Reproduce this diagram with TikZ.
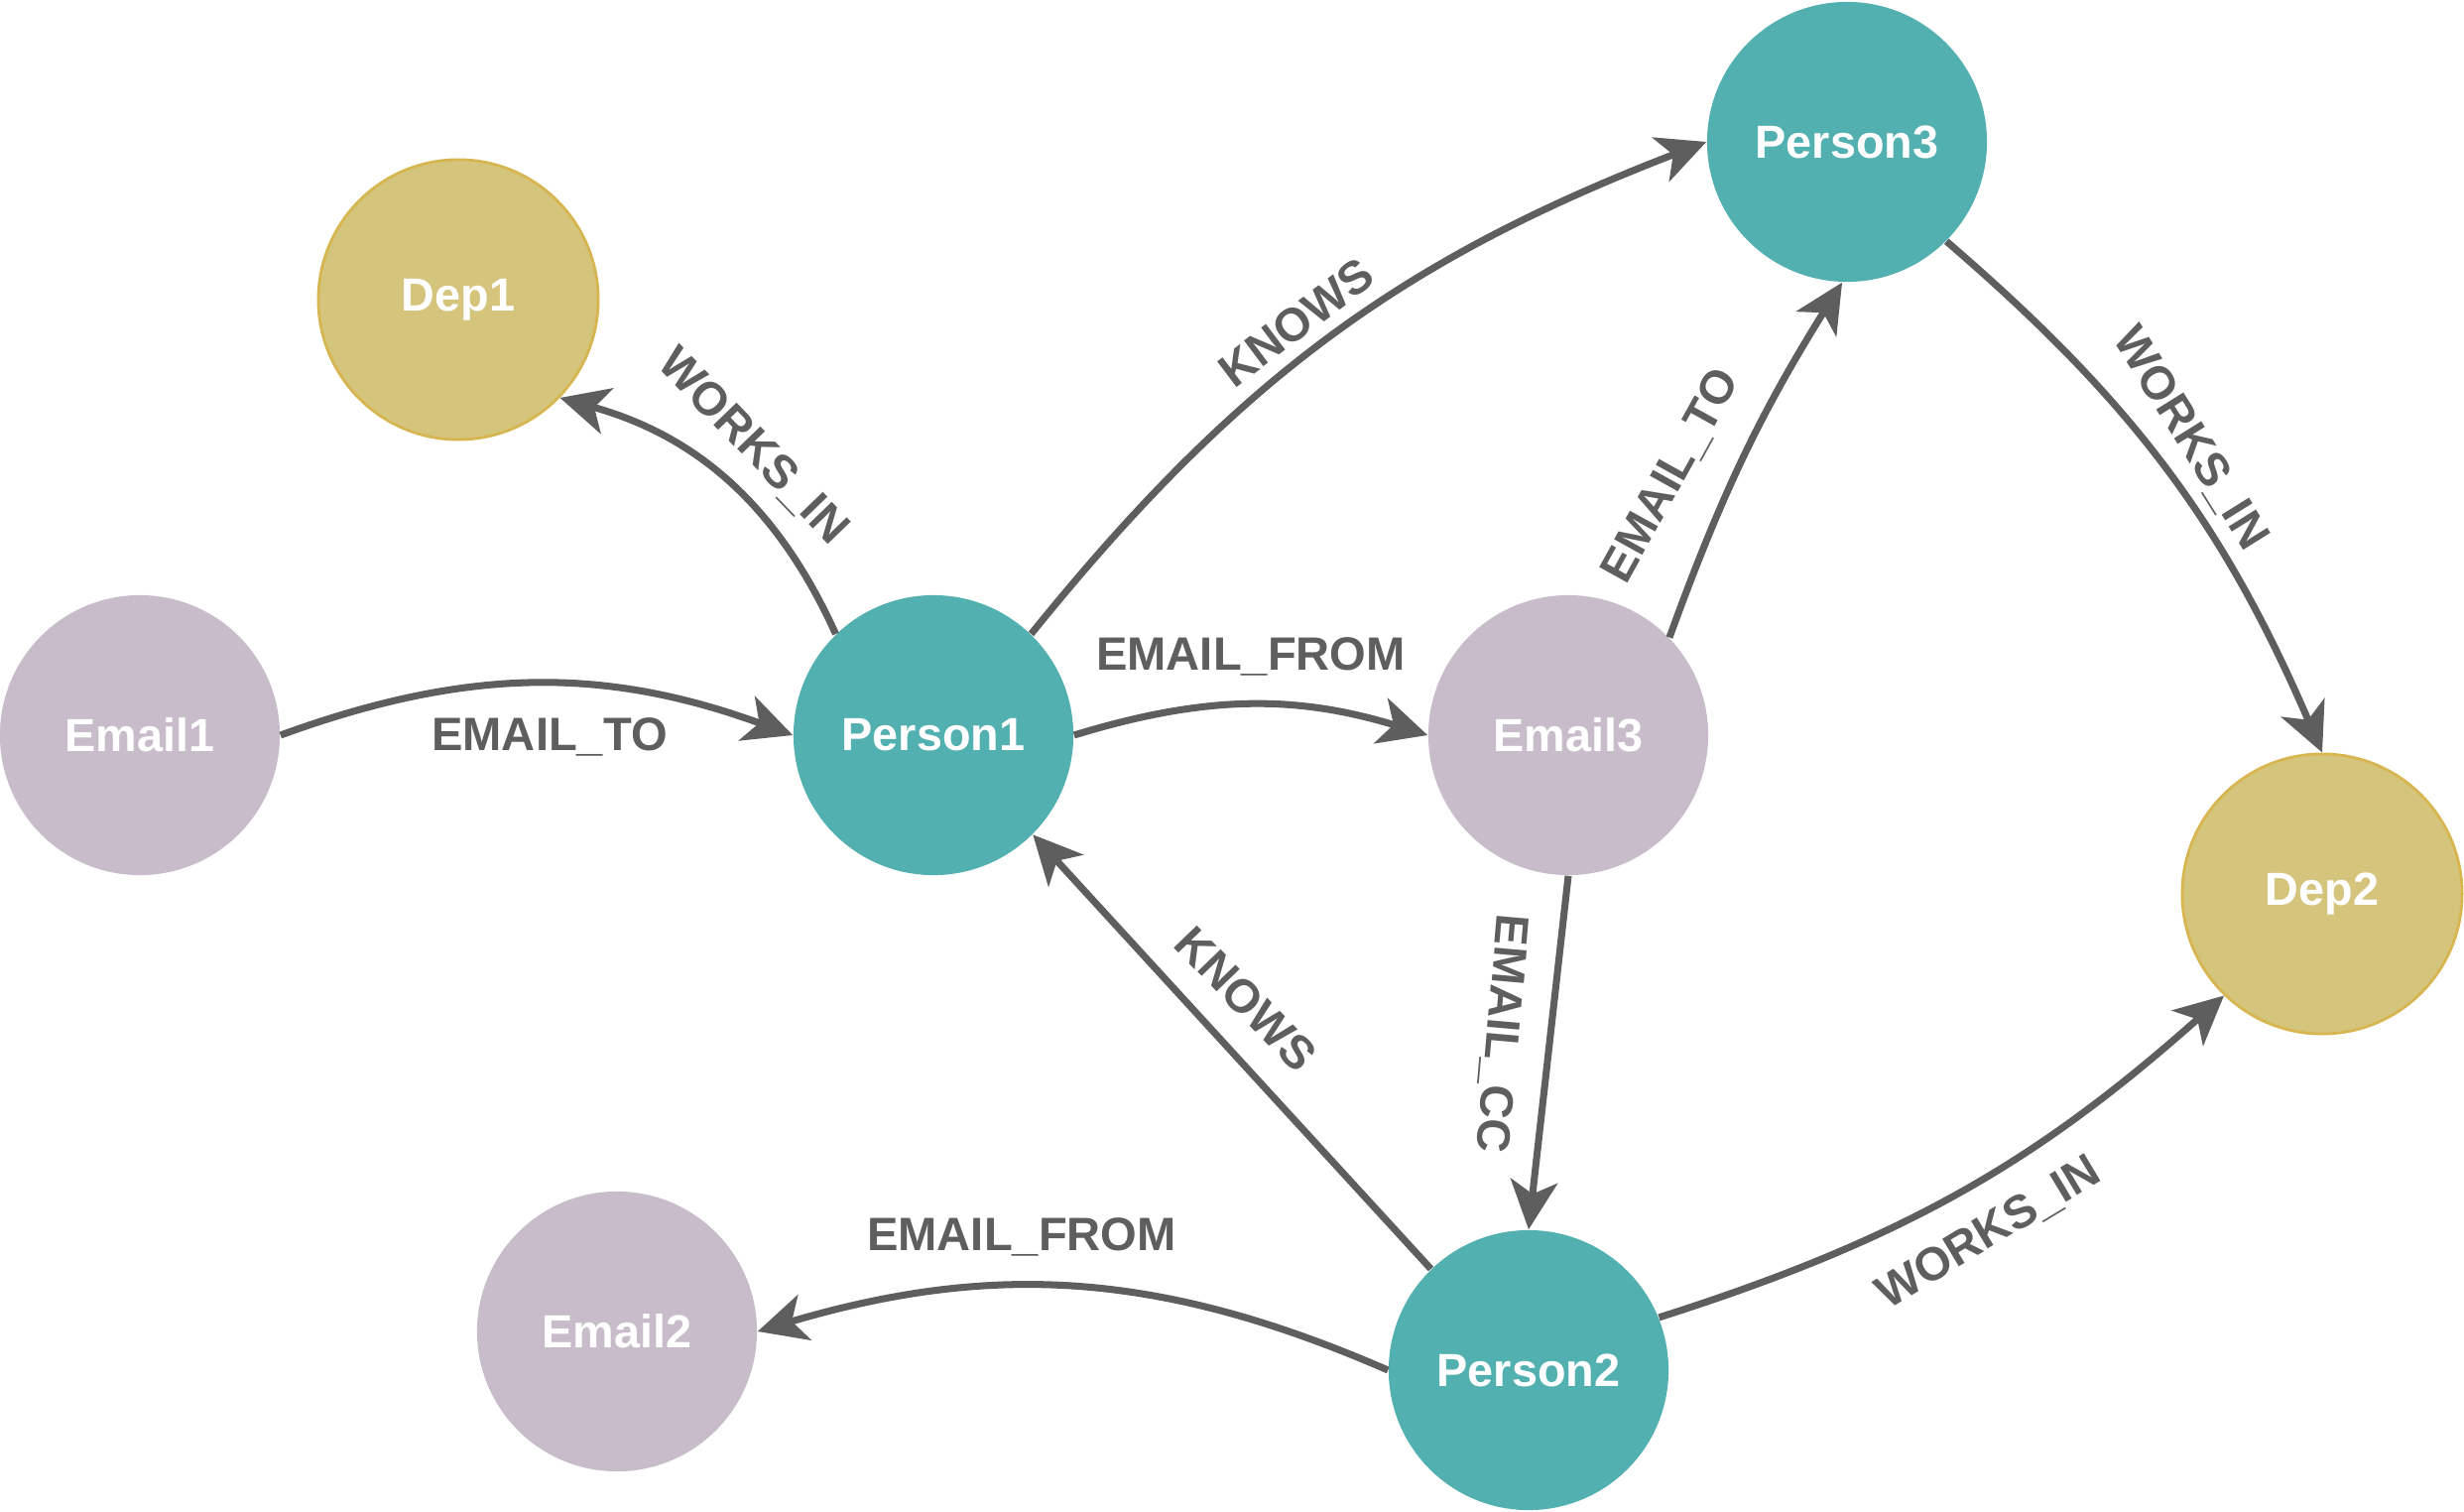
\documentclass[tikz,border=0pt]{standalone}
\usepackage{fontspec}
\setmainfont{Liberation Sans}
\usetikzlibrary{arrows.meta}
\definecolor{teal1}{HTML}{52B1B0}
\definecolor{lav}{HTML}{C8BCCB}
\definecolor{gold}{HTML}{D5C47C}
\definecolor{goldb}{HTML}{D7B551}
\definecolor{edgec}{HTML}{5E5E5E}
\begin{document}
\begin{tikzpicture}[x=0.01cm,y=-0.01cm,
  base/.style={circle, minimum size=2.82cm, inner sep=0pt, text=white, font=\fontsize{13.3pt}{16pt}\selectfont\bfseries},
  person/.style={base, fill=teal1},
  email/.style={base, fill=lav},
  dep/.style={base, fill=gold, draw=goldb, line width=0.8pt},
  rel/.style={draw=edgec, line width=2pt, -{Stealth[length=14pt,width=13.5pt,inset=3.8pt]}},
  lab/.style={text=edgec, font=\fontsize{13.4pt}{16pt}\selectfont\bfseries, inner sep=0pt}]
\useasboundingbox (0,0) rectangle (2484,1524);
\node[dep] (d1) at (462,302) {Dep1};
\node[person] (p3) at (1862,143) {Person3};
\node[email] (e1) at (141,741) {Email1};
\node[person] (p1) at (941,741) {Person1};
\node[email] (e3) at (1581,741) {Email3};
\node[dep] (d2) at (2341,901) {Dep2};
\node[email] (e2) at (622,1342) {Email2};
\node[person] (p2) at (1541,1381) {Person2};

\draw[rel] (e1.east) to[bend left=20] (p1.west);
\draw[rel] (p1.134) to[bend right=25] (d1.-44);
\draw[rel] (p1.46) to[bend left=15] (p3.west);
\draw[rel] (p1.east) to[bend left=17] (e3.west);
\draw[rel] (e3.44) to[bend left=6] (p3.-92);
\draw[rel] (p3.-45) to[bend left=13] (d2.north);
\draw[rel] (e3.south) -- (p2.north);
\draw[rel] (p2.134) -- (p1.-45);
\draw[rel] (p2.west) to[bend right=20] (e2.east);
\draw[rel] (p2.22) to[bend right=12] (d2.-134);

\node[lab] (l1) at (554,743) {EMAIL\_TO};
\node[lab, rotate=-46] (l2) at (759,450) {WORKS\_IN};
\node[lab, rotate=37] (l3) at (1307,325) {KNOWS};
\node[lab] (l4) at (1261,662) {EMAIL\_FROM};
\node[lab, rotate=61] (l5) at (1685,480) {EMAIL\_TO};
\node[lab, rotate=-58] (l6) at (2208,442) {WORKS\_IN};
\node[lab, rotate=-95] (l7) at (1513,1042) {EMAIL\_CC};
\node[lab, rotate=-46] (l8) at (1256,1007) {KNOWS};
\node[lab] (l9) at (1030,1247) {EMAIL\_FROM};
\node[lab, rotate=31] (l10) at (2005,1243) {WORKS\_IN};
\end{tikzpicture}
\end{document}
